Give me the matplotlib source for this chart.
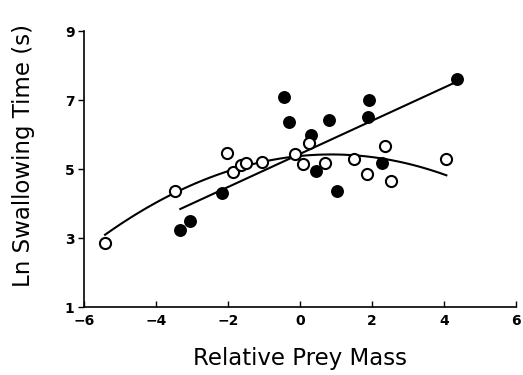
import numpy as np
import matplotlib.pyplot as plt

# open circles
open_x = [-5.42, -3.47, -2.04, -1.88, -1.64, -1.51, -1.06, -0.15, 0.24, 0.09,
          0.69, 1.50, 1.85, 2.36, 2.52, 4.06]
open_y = [2.86, 4.37, 5.46, 4.92, 5.12, 5.17, 5.21, 5.45, 5.76, 5.14,
          5.18, 5.28, 4.87, 5.67, 4.65, 5.30]

# filled circles
filled_x = [-3.33, -3.06, -2.16, -0.44, -0.31, 0.30, 0.79, 1.90, 1.88, 4.35,
            0.44, 2.27, 1.02]
filled_y = [3.23, 3.49, 4.32, 7.10, 6.37, 5.99, 6.42, 7.00, 6.52, 7.60,
            4.94, 5.18, 4.37]

x_ticks = [-6, -4, -2, 0, 2, 4, 6]
y_ticks = [1, 3, 5, 7, 9]


def fit_curve(x, y, deg):
    coef = np.polyfit(x, y, deg)
    xs = np.linspace(min(x), max(x), 100)
    return xs, np.polyval(coef, xs)


fig = plt.figure(figsize=(5.23, 3.75), dpi=100)
ax = fig.add_axes([0.161, 0.181, 0.826, 0.736])

lx, ly = fit_curve(filled_x, filled_y, 1)
qx, qy = fit_curve(open_x, open_y, 2)
ax.plot(lx, ly, color='black', lw=1.5)
ax.plot(qx, qy, color='black', lw=1.5)

ax.plot(filled_x, filled_y, 'o', ms=8, mfc='black', mec='black', mew=1.3)
ax.plot(open_x, open_y, 'o', ms=8, mfc='white', mec='black', mew=1.5)

ax.set_xlim(-6, 6)
ax.set_ylim(1, 9)
ax.set_xticks(x_ticks)
ax.set_yticks(y_ticks)
ax.set_xticklabels([str(t).replace('-', '\u2212') for t in x_ticks],
                   fontweight='bold', fontsize=10)
ax.set_yticklabels([str(t) for t in y_ticks], fontweight='bold', fontsize=10)
ax.tick_params(axis='x', direction='in', length=4, width=1, pad=5)
ax.tick_params(axis='y', direction='out', length=4, width=1, pad=3)
for s in ['top', 'right']:
    ax.spines[s].set_visible(False)
for s in ['left', 'bottom']:
    ax.spines[s].set_linewidth(1.2)

ax.set_xlabel('Relative Prey Mass', fontsize=16.5)
ax.set_ylabel('Ln Swallowing Time (s)', fontsize=16.5)
ax.xaxis.set_label_coords(0.5, -0.145)
ax.yaxis.set_label_coords(-0.115, 0.55)

fig.savefig('out.png', dpi=100)
